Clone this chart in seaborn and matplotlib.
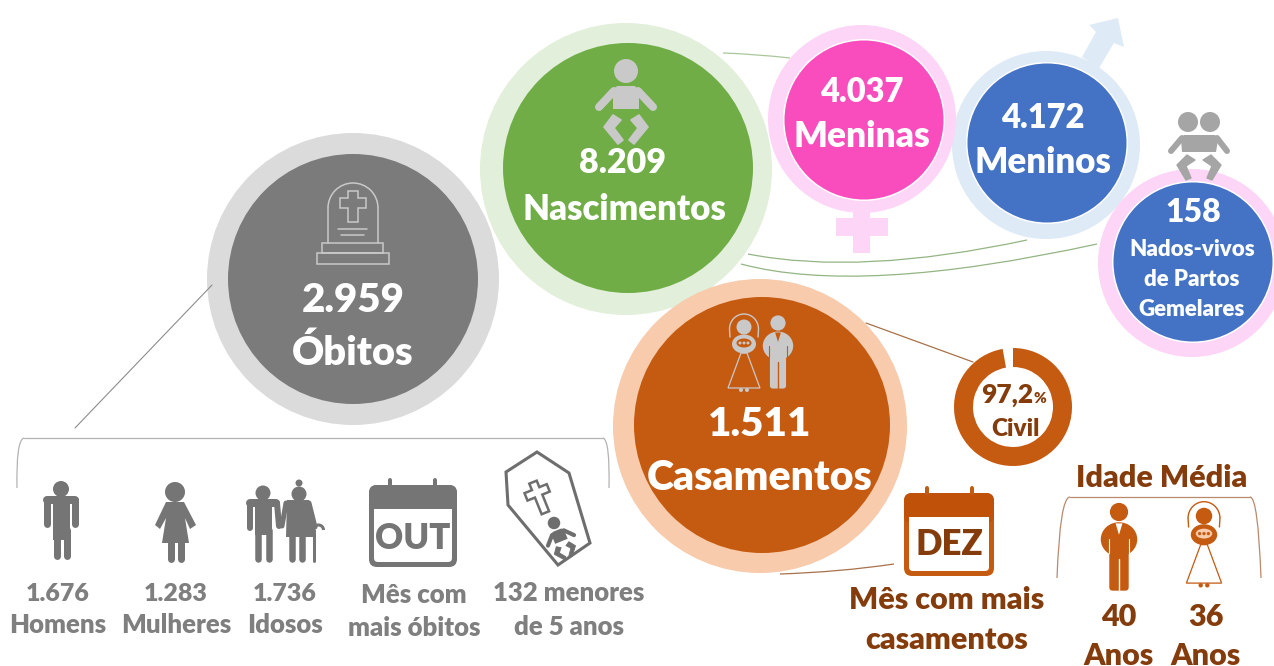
import numpy as np
import pandas as pd
import matplotlib
matplotlib.use('Agg')
import matplotlib.pyplot as plt
import seaborn as sns
from matplotlib.patches import Polygon, Circle, Ellipse, Arc, PathPatch, FancyBboxPatch, Rectangle
from matplotlib.path import Path

# values
bubble_names = ['Nascimentos', 'Óbitos', 'Casamentos', 'Meninas', 'Meninos', 'Gemelares']
bubble_totals = ['8.209', '2.959', '1.511', '4.037', '4.172', '158']
death_values = ['1.676', '1.283', '1.736']
death_labels = ['Homens', 'Mulheres', 'Idosos']
civil_share = [97.2, 2.8]
average_ages = ['40', '36']

GREY = '#757575'
GREY_TXT = '#7F7F7F'
ICON = '#C9C9C9'
ORANGE = '#C55A11'
BROWN = '#843C0C'

sns.set_theme(style='white')
plt.rcParams['font.family'] = ['Lato', 'DejaVu Sans']

fig = plt.figure(figsize=(12.74, 6.66), dpi=100)
ax = fig.add_axes([0, 0, 1, 1])

# ring centre/radius, disc centre/radius, colours, white rim
layout = {
    'Nascimentos': (626, 169, 146, 628, 168, 125, '#E2EFDA', '#70AD47', False),
    'Óbitos': (353, 279, 146, 353, 279, 125, '#DBDBDB', '#7B7B7B', False),
    'Casamentos': (760, 426, 147, 762, 425, 128, '#F7CBAC', '#C55A11', False),
    'Meninos': (1046, 145, 94, 1047, 143, 79.5, '#DEEAF6', '#4472C4', True),
    'Meninas': (862, 119, 94, 864, 120, 79.5, '#FDD5F6', '#F94DBD', True),
    'Gemelares': (1192, 263, 94, 1193, 262, 79.5, '#FDD5F6', '#4472C4', True),
}

rows = []
for name, (cx, cy, r, ix, iy, ir, c_out, c_in, rim) in layout.items():
    rows.append((cx, cy, 2 * r, c_out))
    if rim:
        rows.append((ix, iy, 2 * ir + 3, '#FFFFFF'))
    rows.append((ix, iy, 2 * ir, c_in))
df = pd.DataFrame(rows, columns=['x', 'y', 'diam', 'colour'])
df['part'] = df.index.astype(str)

sns.scatterplot(
    data=df, x='x', y='y', hue='part', size='part',
    palette=dict(zip(df['part'], df['colour'])),
    sizes=dict(zip(df['part'], (df['diam'] * 0.72) ** 2)),
    linewidth=0, legend=False, ax=ax, zorder=2,
)

# doughnut
ax.pie(civil_share, colors=[ORANGE, 'none'], startangle=270, counterclock=True,
       center=(1013, 407), radius=59, wedgeprops={'width': 19, 'linewidth': 0}, frame=True)


def curve(pts, col, lw=0.9, z=1):
    codes = [Path.MOVETO] + [Path.CURVE3] * (len(pts) - 1)
    ax.add_patch(PathPatch(Path(pts, codes), fc='none', ec=col, lw=lw, zorder=z))


def poly(pts, col, z=5, edge=0.0):
    ax.add_patch(Polygon(pts, closed=True, fc=col, ec=col if edge else 'none', lw=edge, joinstyle='round', zorder=z))


def outline(pts, col, lw=1.0, z=5, fc='none', closed=True):
    ax.add_patch(Polygon(pts, closed=closed, fc=fc, ec=col, lw=lw, zorder=z))


def bar(x0, y0, x1, y1, w, col, z=5):
    ax.plot([x0, x1], [y0, y1], color=col, lw=w * 0.72, solid_capstyle='round', zorder=z)


def disc(x, y, r, col, z=5):
    ax.add_patch(Circle((x, y), r, fc=col, ec='none', zorder=z))


def place(pts, ox, oy, s=1.0, rot=0.0):
    t = np.radians(rot)
    a = np.array(pts, dtype=float) * s
    return np.c_[ox + a[:, 0] * np.cos(t) - a[:, 1] * np.sin(t),
                 oy + a[:, 0] * np.sin(t) + a[:, 1] * np.cos(t)]


def baby(ox, oy, s, col, rot=0.0):
    disc(*place([(0, 0)], ox, oy, s, rot)[0], 12 * s, col)
    poly(place([(-9, 15), (9, 15), (13, 20), (13, 38), (-13, 38), (-13, 20)], ox, oy, s, rot), col)
    for side in (-1, 1):
        a = place([(side * 12, 20), (side * 27, 36)], ox, oy, s, rot)
        bar(a[0, 0], a[0, 1], a[1, 0], a[1, 1], 8 * s, col)
        leg = [(side * 13, 44), (side * 22, 56), (side * 8, 73), (side * 3, 69), (side * 12, 57), (side * 5, 49)]
        poly(place(leg, ox, oy, s, rot), col, edge=1.2 * s)


def groom(ox, oy, s, col, detail):
    disc(ox, oy, 8 * s, col)
    ax.add_patch(Ellipse((ox, oy + 24 * s), 32 * s, 30 * s, fc=col, ec='none', zorder=5))
    ax.add_patch(FancyBboxPatch((ox - 8.5 * s, oy + 28 * s), 17 * s, 41 * s, boxstyle='round,pad=0,rounding_size=%.1f' % (3 * s),
                                fc=col, ec='none', zorder=5))
    ax.plot([ox, ox], [oy + 41 * s, oy + 71 * s], color=detail, lw=1.0, zorder=6)
    poly([(ox - 3 * s, oy + 10 * s), (ox + 3 * s, oy + 10 * s), (ox, oy + 20 * s)], detail, z=6)
    for side in (-1, 1):
        ax.plot([ox + side * 9 * s, ox + side * 9 * s], [oy + 24 * s, oy + 36 * s], color=detail, lw=0.8, zorder=6)


def bride(ox, oy, s, col, inner, dress_fill='none'):
    disc(ox, oy, 7.5 * s, col)
    ax.add_patch(Arc((ox, oy + 2 * s), 29 * s, 30 * s, theta1=180, theta2=360, ec=col, lw=1.0, zorder=5))
    ax.plot([ox - 14.5 * s, ox - 14 * s], [oy + 2 * s, oy + 10 * s], color=col, lw=1.0, zorder=5)
    ax.plot([ox + 14.5 * s, ox + 14 * s], [oy + 2 * s, oy + 10 * s], color=col, lw=1.0, zorder=5)
    outline([(ox - 3 * s, oy + 26 * s), (ox + 3 * s, oy + 26 * s), (ox + 16 * s, oy + 61 * s), (ox - 16 * s, oy + 61 * s)],
            col, lw=0.9, fc=dress_fill)
    ax.add_patch(Ellipse((ox, oy + 17 * s), 24 * s, 19 * s, fc=col, ec='none', zorder=6))
    ax.add_patch(Ellipse((ox, oy + 16 * s), 15 * s, 9 * s, fc=inner, ec='none', zorder=6))
    for dx in (-4, 0, 4):
        disc(ox + dx * s, oy + 16 * s, 1.5 * s, col, z=7)
    disc(ox - 3 * s, oy + 63 * s, 2 * s, col)
    disc(ox + 3 * s, oy + 63 * s, 2 * s, col)


def calendar(x0, y0, x1, y1, yh, col, head, frame, pegs, text, tcol, tsize, ty, r=8):
    ax.add_patch(FancyBboxPatch((x0, y0), x1 - x0, y1 - y0, boxstyle='round,pad=0,rounding_size=%d' % r,
                                fc=col, ec='none', zorder=5))
    ax.add_patch(FancyBboxPatch((x0, y0), x1 - x0, (yh - y0) + 6, boxstyle='round,pad=0,rounding_size=%d' % r,
                                fc=head, ec='none', zorder=5))
    ax.add_patch(FancyBboxPatch((x0 + frame, yh), x1 - x0 - 2 * frame, y1 - yh - frame, boxstyle='round,pad=0,rounding_size=4',
                                fc='white', ec='none', zorder=5))
    ax.add_patch(Rectangle((x0 + frame, yh), x1 - x0 - 2 * frame, 6, fc='white', ec='none', zorder=5))
    for p in pegs:
        bar(p, y0 - 5, p, y0, 4, col)
    ax.text((x0 + x1) / 2, ty, text, color=tcol, fontsize=tsize, fontweight='heavy', ha='center', va='baseline', zorder=6)


def label(x, y, txt, size, col='white'):
    ax.text(x, y, txt, color=col, fontsize=size, fontweight='heavy', ha='center', va='baseline', zorder=7)


# connector lines
curve([(723, 53), (755, 54), (790, 58)], '#A9C79A', z=1)
curve([(748, 254), (860, 276), (1027, 240)], '#93B583', z=1)
curve([(741, 264), (860, 296), (1097, 244)], '#93B583', z=1)
ax.plot([75, 212], [428, 285], color='#8C8C8C', lw=0.8, zorder=3)
ax.plot([866, 973], [323, 362], color='#A8714A', lw=0.9, zorder=1)
curve([(780, 574), (840, 572), (894, 564)], '#A8714A', z=1)
curve([(17, 488), (16, 440), (24, 438)], '#B3B3B3', z=1)
ax.plot([24, 603], [438, 438], color='#B3B3B3', lw=0.9, zorder=1)
curve([(603, 438), (610, 440), (609, 488)], '#B3B3B3', z=1)
curve([(1057, 578), (1060, 497), (1070, 497)], '#B98A6C', z=1)
ax.plot([1070, 1250], [497, 497], color='#B98A6C', lw=0.9, zorder=1)
curve([(1250, 497), (1258, 497), (1261, 578)], '#B98A6C', z=1)

# gender symbols
poly([(853, 205), (870, 205), (870, 218), (888, 218), (888, 236), (870, 236), (870, 253), (853, 253),
      (853, 236), (836, 236), (836, 218), (853, 218)], '#FDD5F6', z=1.5)
poly([(1089, 25), (1118, 18), (1124, 47), (1114, 43), (1099, 68), (1082, 57), (1096, 32)], '#DEEAF6', z=1.5)

# tombstone
tomb = dict(col=ICON, lw=1.1)
ax.add_patch(Arc((353, 208), 50, 50, theta1=180, theta2=360, ec=ICON, lw=1.1, zorder=5))
ax.plot([328, 328], [208, 243], color=ICON, lw=1.1, zorder=5)
ax.plot([378, 378], [208, 243], color=ICON, lw=1.1, zorder=5)
outline([(322, 243), (383, 243), (383, 253), (322, 253)], **tomb)
outline([(317, 253), (389, 253), (389, 264), (317, 264)], **tomb)
outline([(348, 191), (358, 191), (358, 198), (366, 198), (366, 208), (358, 208), (358, 222), (348, 222),
         (348, 208), (340, 208), (340, 198), (348, 198)], **tomb)
ax.plot([338, 367], [229, 229], color=ICON, lw=1.1, zorder=5)
ax.plot([341, 364], [235, 235], color=ICON, lw=1.1, zorder=5)

# people inside the bubbles
baby(626, 71, 1.0, ICON)
bride(744, 327, 1.0, ICON, ORANGE)
groom(778, 323, 0.95, ICON, ORANGE)

# twins
disc(1188, 122, 10, '#A5A5A5')
disc(1210, 122, 10, '#A5A5A5')
poly([(1184, 135), (1215, 135), (1218, 140), (1216, 152), (1182, 152), (1181, 140)], '#A5A5A5')
bar(1182, 138, 1171, 151, 6, '#A5A5A5')
bar(1217, 138, 1227, 151, 6, '#A5A5A5')
poly([(1187, 155), (1177, 165), (1186, 180), (1191, 178), (1186, 166), (1195, 160)], '#A5A5A5', edge=1)
poly([(1211, 155), (1221, 165), (1212, 180), (1207, 178), (1212, 166), (1203, 160)], '#A5A5A5', edge=1)

# man
disc(61, 489, 8, GREY)
bar(47, 500, 75, 500, 8, GREY)
bar(47, 500, 47, 524, 7, GREY)
bar(75, 500, 75, 524, 7, GREY)
poly([(53, 497), (70, 497), (70, 540), (53, 540)], GREY)
bar(56.5, 530, 56.5, 556, 7, GREY)
bar(66.5, 530, 66.5, 556, 7, GREY)

# woman
disc(175, 492, 10, GREY)
poly([(166, 502), (184, 502), (196, 525), (190, 529), (185, 518), (189, 543), (162, 543), (166, 518), (160, 529), (155, 525)], GREY)
bar(170.5, 543, 170.5, 559, 7, GREY)
bar(180.5, 543, 180.5, 559, 7, GREY)

# elderly couple
disc(263, 493, 7.5, GREY)
bar(250, 503, 276, 503, 8, GREY)
bar(250, 503, 250, 528, 6, GREY)
bar(277, 503, 279, 526, 6, GREY)
poly([(255, 499), (272, 499), (272, 535), (255, 535)], GREY)
bar(258, 530, 258, 559, 6.5, GREY)
bar(268.5, 530, 268.5, 559, 6.5, GREY)
disc(299, 494, 7.5, GREY)
disc(299, 483, 3.5, GREY)
poly([(287, 500), (309, 500), (316, 537), (286, 537)], GREY)
bar(286, 503, 282, 526, 5, GREY)
bar(309, 503, 315, 527, 5, GREY)
bar(292, 535, 292, 559, 6.5, GREY)
bar(302, 535, 302, 559, 6.5, GREY)
bar(313.5, 530, 313.5, 561, 3, GREY)
ax.add_patch(Arc((318.5, 530), 10, 10, theta1=180, theta2=360, ec=GREY, lw=2.2, zorder=5))

# month calendars
calendar(369, 485, 457, 567, 509, GREY, GREY, 5, (390, 435), 'OUT', GREY, 25, 549)
calendar(904, 493, 994, 576, 517, ORANGE, '#BF5208', 5, (927, 972), 'DEZ', BROWN, 25, 555)

# coffin
outline([(537, 452), (569, 473), (590, 543), (558, 565), (508, 505), (506, 472)], '#6E6E6E', lw=2.2)
cross = [(-4, -16), (4, -16), (4, -9), (12, -9), (12, -1), (4, -1), (4, 17), (-4, 17), (-4, -1), (-12, -1), (-12, -9), (-4, -9)]
outline(place(cross, 539, 497, 1.0, -22), '#6E6E6E', lw=1.8)
baby(554, 523, 0.52, '#6E6E6E', rot=-22)

# icons of the average ages
groom(1119, 512, 1.14, ORANGE, 'white')
bride(1204, 516, 1.1, ORANGE, '#F7CBAC', dress_fill='white')

# texts
label(353, 312, bubble_totals[1], 29)
label(353, 365, bubble_names[1], 28.5)
label(623, 173, bubble_totals[0], 24.5)
label(624, 220, bubble_names[0], 25)
label(760, 436, bubble_totals[2], 29)
label(760, 490, bubble_names[2], 29.5)
label(862, 102, bubble_totals[3], 23.5)
label(862, 147, bubble_names[3], 25.5)
label(1043, 128, bubble_totals[4], 23.5)
label(1043, 173, bubble_names[4], 25)
label(1193, 222, bubble_totals[5], 23)
label(1192, 256, 'Nados-vivos', 16)
label(1192, 286, 'de Partos', 16)
label(1192, 316, 'Gemelares', 16)

for xpos, val, txt in zip((58, 176, 285), death_values, death_labels):
    label(xpos, 601, val, 18, GREY_TXT)
    label(xpos, 633, txt, 18.5, GREY_TXT)
label(414, 603, 'Mês com', 18.5, GREY_TXT)
label(414, 636, 'mais óbitos', 18.5, GREY_TXT)
label(569, 601, '132 menores', 18.5, GREY_TXT)
label(569, 635, 'de 5 anos', 18.5, GREY_TXT)

label(1007, 403, '97,2', 19, BROWN)
label(1040, 403, '%', 11, BROWN)
label(1015, 436, 'Civil', 17.5, BROWN)
label(947, 609, 'Mês com mais', 22, BROWN)
label(947, 649, 'casamentos', 22, BROWN)
label(1162, 487, 'Idade Média', 22, BROWN)
for xpos, age in zip((1119, 1206), average_ages):
    label(xpos, 626, age, 22, BROWN)
    label(xpos, 665, 'Anos', 22, BROWN)

ax.set_xlim(0, 1274)
ax.set_ylim(666, 0)
ax.set_xlabel('')
ax.set_ylabel('')
ax.axis('off')
fig.savefig('out.png', dpi=100)
